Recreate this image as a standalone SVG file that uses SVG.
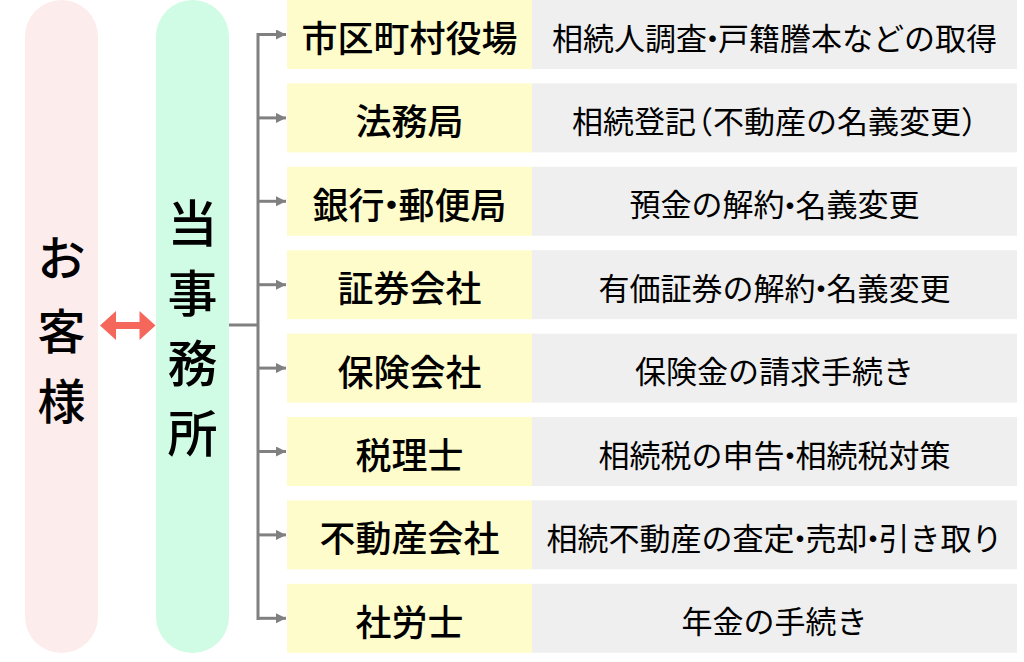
<svg xmlns="http://www.w3.org/2000/svg" width="1024" height="662" viewBox="0 0 1024 662">
<style>
.jp{font-family:"Noto Sans CJK JP","Noto Sans CJK SC",sans-serif;fill:#000;text-anchor:middle;dominant-baseline:central}
.big{font-size:48px;font-weight:500}
.big2{font-size:50px;font-weight:500}
.lab{font-size:36px;font-weight:500}
.desc{font-size:31px;font-weight:400}
.yl{fill:#fffccc}
.gy{fill:#efefef}
.conn{stroke:#808080;stroke-width:3;fill:none}
</style>
<defs>
<marker id="ah" markerWidth="10" markerHeight="10" refX="10" refY="5" orient="auto" markerUnits="userSpaceOnUse">
<path d="M0,0 L10,5 L0,10 Z" fill="#808080"/>
</marker>
</defs>
<rect width="1024" height="662" fill="#fff"/>
<g id="customer">
<rect x="25" y="0" width="73" height="653" rx="36.5" fill="#fdecec"/>
<text class="jp big" x="61.5" y="255">お</text>
<text class="jp big" x="61.5" y="328">客</text>
<text class="jp big" x="61.5" y="398">様</text>
</g>
<g id="office">
<rect x="156" y="0" width="73" height="653" rx="36.5" fill="#d0fbe4"/>
<text class="jp big2" x="192.5" y="220">当</text>
<text class="jp big2" x="192.5" y="290">事</text>
<text class="jp big2" x="192.5" y="360">務</text>
<text class="jp big2" x="192.5" y="430">所</text>
</g>
<g id="connectors">
<path d="M100,325.5 L116,311 L116,322 L139.5,322 L139.5,311 L155.5,325.5 L139.5,340 L139.5,329 L116,329 L116,340 Z" fill="#f4675a"/>
<path class="conn" d="M229,325 H258 M258,33 V620"/>
<path class="conn" marker-end="url(#ah)" d="M258,34.5 H286"/>
<path class="conn" marker-end="url(#ah)" d="M258,117.9 H286"/>
<path class="conn" marker-end="url(#ah)" d="M258,201.3 H286"/>
<path class="conn" marker-end="url(#ah)" d="M258,284.7 H286"/>
<path class="conn" marker-end="url(#ah)" d="M258,368.1 H286"/>
<path class="conn" marker-end="url(#ah)" d="M258,451.5 H286"/>
<path class="conn" marker-end="url(#ah)" d="M258,534.9 H286"/>
<path class="conn" marker-end="url(#ah)" d="M258,618.3 H286"/>
</g>
<g id="row1">
<rect class="yl" x="287" y="0" width="245" height="69"/><rect class="gy" x="532" y="0" width="485" height="69"/>
<text class="jp lab" x="409.5" y="36">市区町村役場</text>
<text class="jp desc" x="774.5" y="36">相続人調査<tspan dx="-10">・</tspan><tspan dx="-10">戸</tspan>籍謄本などの取得</text>
</g>
<g id="row2">
<rect class="yl" x="287" y="83.4" width="245" height="69"/><rect class="gy" x="532" y="83.4" width="485" height="69"/>
<text class="jp lab" x="409.5" y="119.4">法務局</text>
<text class="jp desc" x="782" y="119.4">相続登記<tspan dx="-14">（</tspan>不動産の名義変更）</text>
</g>
<g id="row3">
<rect class="yl" x="287" y="166.8" width="245" height="69"/><rect class="gy" x="532" y="166.8" width="485" height="69"/>
<text class="jp lab" x="409.5" y="202.8">銀行<tspan dx="-11">・</tspan><tspan dx="-11">郵</tspan>便局</text>
<text class="jp desc" x="774.5" y="202.8">預金の解約<tspan dx="-10">・</tspan><tspan dx="-10">名</tspan>義変更</text>
</g>
<g id="row4">
<rect class="yl" x="287" y="250.2" width="245" height="69"/><rect class="gy" x="532" y="250.2" width="485" height="69"/>
<text class="jp lab" x="409.5" y="286.2">証券会社</text>
<text class="jp desc" x="774.5" y="286.2">有価証券の解約<tspan dx="-10">・</tspan><tspan dx="-10">名</tspan>義変更</text>
</g>
<g id="row5">
<rect class="yl" x="287" y="333.6" width="245" height="69"/><rect class="gy" x="532" y="333.6" width="485" height="69"/>
<text class="jp lab" x="409.5" y="369.6">保険会社</text>
<text class="jp desc" x="774.5" y="369.6">保険金の請求手続き</text>
</g>
<g id="row6">
<rect class="yl" x="287" y="417" width="245" height="69"/><rect class="gy" x="532" y="417" width="485" height="69"/>
<text class="jp lab" x="409.5" y="453">税理士</text>
<text class="jp desc" x="774.5" y="453">相続税の申告<tspan dx="-10">・</tspan><tspan dx="-10">相</tspan>続税対策</text>
</g>
<g id="row7">
<rect class="yl" x="287" y="500.4" width="245" height="69"/><rect class="gy" x="532" y="500.4" width="485" height="69"/>
<text class="jp lab" x="409.5" y="536.4">不動産会社</text>
<text class="jp desc" x="774.5" y="536.4">相続不動産の査定<tspan dx="-10">・</tspan><tspan dx="-10">売</tspan>却<tspan dx="-10">・</tspan><tspan dx="-10">引</tspan>き取り</text>
</g>
<g id="row8">
<rect class="yl" x="287" y="583.8" width="245" height="69"/><rect class="gy" x="532" y="583.8" width="485" height="69"/>
<text class="jp lab" x="409.5" y="619.8">社労士</text>
<text class="jp desc" x="774.5" y="619.8">年金の手続き</text>
</g>
</svg>
